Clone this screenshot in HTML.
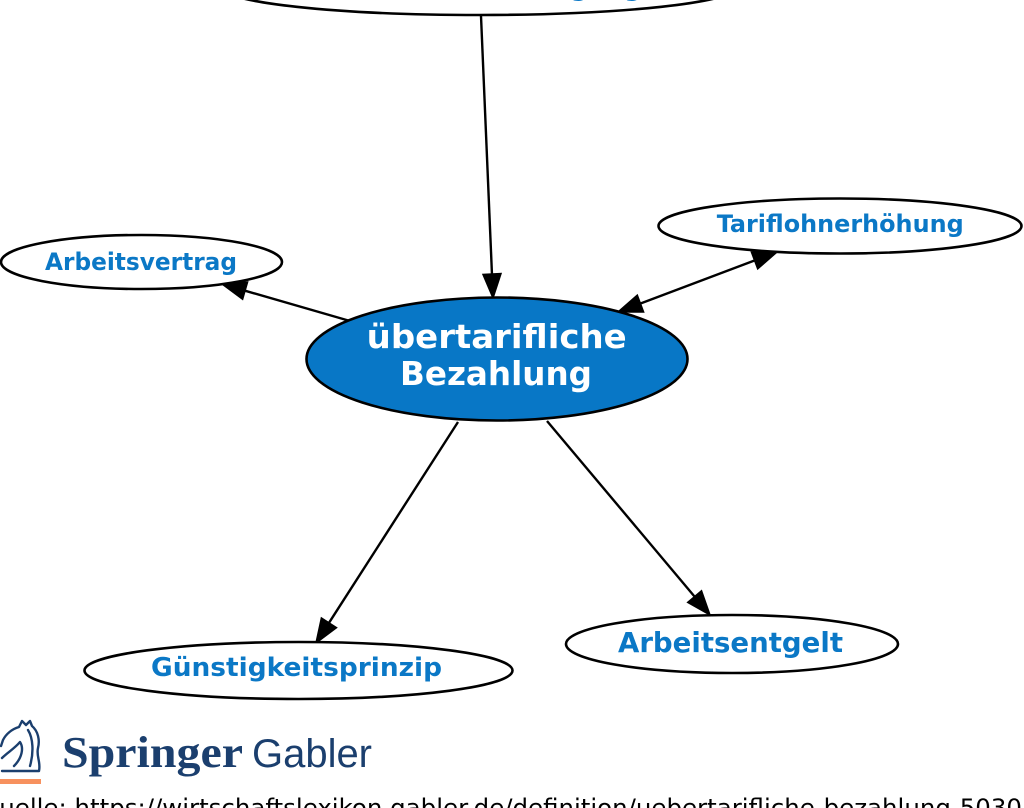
<!DOCTYPE html>
<html>
<head>
<meta charset="utf-8">
<style>
  html, body { margin:0; padding:0; background:#ffffff; }
  body { width:1024px; height:808px; overflow:hidden; position:relative; }
  svg { position:absolute; left:0; top:0; }
  .lbl { font-family:"DejaVu Sans","Liberation Sans",sans-serif; font-weight:bold; fill:#0b78c6; }
</style>
</head>
<body>
<svg width="1024" height="808" viewBox="0 0 1024 808" xmlns="http://www.w3.org/2000/svg">
  <rect x="0" y="0" width="1024" height="808" fill="#ffffff"/>

  <!-- top (cut off) node -->
  <ellipse cx="479" cy="-13" rx="258" ry="28" fill="#ffffff" stroke="#000" stroke-width="2.6"/>
  <text class="lbl" x="479" y="-4" font-size="25" text-anchor="middle">Ordentliche Kündigung</text>

  <!-- edges -->
  <g stroke="#000" stroke-width="2.4" fill="none">
    <line x1="481" y1="16" x2="492" y2="275"/>
    <line x1="350" y1="321" x2="245" y2="290.7"/>
    <line x1="640.5" y1="303.5" x2="754.5" y2="260.5"/>
    <line x1="458" y1="422" x2="329" y2="622.8"/>
    <line x1="547" y1="421" x2="694.6" y2="596.6"/>
  </g>
  <g fill="#000" stroke="#000" stroke-width="1.5" stroke-linejoin="miter">
    <polygon points="493,298 501,273.6 483,274.4"/>
    <polygon points="222,284 247.6,282 242.6,299.3"/>
    <polygon points="777,252 757.7,268.9 751.4,252"/>
    <polygon points="618,312 643.6,312 637.3,295.1"/>
    <polygon points="316,643 336.5,627.7 321.4,618"/>
    <polygon points="710,615 687.7,602.4 701.5,590.8"/>
  </g>

  <!-- center node -->
  <ellipse cx="497" cy="359" rx="190.5" ry="61.5" fill="#0877c6" stroke="#000" stroke-width="2.6"/>
  <text x="366.7" y="348" font-family="DejaVu Sans, Liberation Sans, sans-serif" font-weight="bold" font-size="33" fill="#ffffff" textLength="260" lengthAdjust="spacingAndGlyphs">übertarifliche</text>
  <text x="400" y="385" font-family="DejaVu Sans, Liberation Sans, sans-serif" font-weight="bold" font-size="33" fill="#ffffff" textLength="192" lengthAdjust="spacingAndGlyphs">Bezahlung</text>

  <!-- Arbeitsvertrag -->
  <ellipse cx="141.5" cy="262" rx="140.5" ry="27" fill="#ffffff" stroke="#000" stroke-width="2.6"/>
  <text class="lbl" x="45" y="270" font-size="24" textLength="192" lengthAdjust="spacingAndGlyphs">Arbeitsvertrag</text>

  <!-- Tariflohnerhöhung -->
  <ellipse cx="840" cy="226" rx="181.5" ry="27.5" fill="#ffffff" stroke="#000" stroke-width="2.6"/>
  <text class="lbl" x="716.7" y="232" font-size="24" textLength="247" lengthAdjust="spacingAndGlyphs">Tariflohnerhöhung</text>

  <!-- Günstigkeitsprinzip -->
  <ellipse cx="298.5" cy="670.5" rx="214" ry="28.5" fill="#ffffff" stroke="#000" stroke-width="2.6"/>
  <text class="lbl" x="151" y="676" font-size="26" textLength="291" lengthAdjust="spacingAndGlyphs">Günstigkeitsprinzip</text>

  <!-- Arbeitsentgelt -->
  <ellipse cx="732" cy="644" rx="166" ry="29" fill="#ffffff" stroke="#000" stroke-width="2.6"/>
  <text class="lbl" x="618" y="652" font-size="28" textLength="225" lengthAdjust="spacingAndGlyphs">Arbeitsentgelt</text>

  <!-- Springer Gabler logo -->
  <g fill="none" stroke="#1b3f6e" stroke-width="2.4" stroke-linejoin="round" stroke-linecap="round">
    <path d="M2 771 L39 771 C41 762 36 756 38 748 C40 740 38 731 32 726 L30 721 L26 725 L22 721 L19 727 C12 729 6 734 3 740 L1 746"/>
    <path d="M2 758 C8 752 14 749 20 742 C24 748 22 758 14 766"/>
    <path d="M28 730 C33 738 34 752 30 766"/>
  </g>
  <rect x="0" y="779" width="41" height="5" fill="#f7915e"/>
  <text x="62" y="767" font-family="Liberation Serif, serif" font-weight="bold" font-size="44" fill="#1b3f6e" textLength="181" lengthAdjust="spacingAndGlyphs">Springer</text>
  <text x="252" y="767" font-family="Liberation Sans, sans-serif" font-size="40" fill="#1b3f6e" textLength="120" lengthAdjust="spacingAndGlyphs">Gabler</text>

  <!-- source line -->
  <text x="-20" y="816" font-family="DejaVu Sans, Liberation Sans, sans-serif" font-size="24" fill="#000" textLength="1042" lengthAdjust="spacingAndGlyphs">Quelle: https://wirtschaftslexikon.gabler.de/definition/uebertarifliche-bezahlung-5030</text>
  <text x="1024" y="816" font-family="DejaVu Sans, Liberation Sans, sans-serif" font-size="24" fill="#000">9</text>
</svg>
</body>
</html>
